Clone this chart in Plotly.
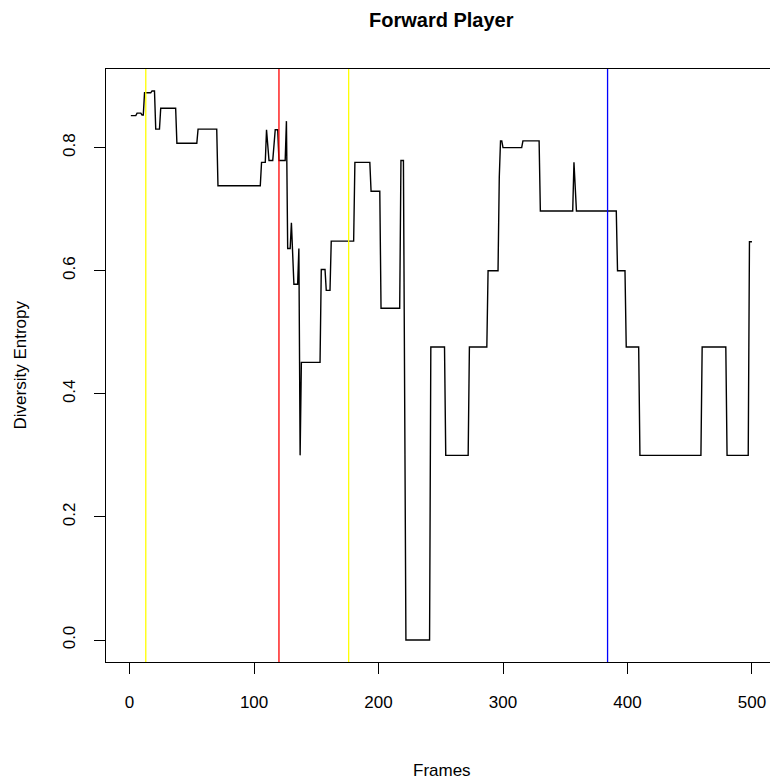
import plotly.graph_objects as go

# Diversity entropy of the forward player, held constant over runs of frames.
seg_start = [1, 6, 10, 12, 18, 21, 25, 38, 55, 71, 106, 110, 112, 117, 120, 126,
             127, 130, 132, 136, 137, 138, 154, 158, 162, 181, 194, 202, 218, 222,
             242, 254, 273, 288, 297, 298, 300, 316, 330, 357, 359, 392, 399, 410,
             460, 480, 498]
seg_end = [5, 9, 11, 17, 20, 24, 37, 54, 70, 105, 109, 110, 115, 119, 125, 126,
           129, 130, 135, 136, 137, 153, 157, 161, 180, 193, 201, 217, 220, 241,
           253, 272, 287, 296, 297, 299, 315, 329, 356, 357, 391, 398, 409, 459,
           479, 497, 500]
seg_value = [0.852, 0.856, 0.853, 0.889, 0.892, 0.830, 0.864, 0.807, 0.830, 0.738,
             0.776, 0.829, 0.779, 0.829, 0.779, 0.843, 0.636, 0.678, 0.578, 0.636,
             0.300, 0.451, 0.602, 0.568, 0.648, 0.776, 0.729, 0.539, 0.779, 0.000,
             0.476, 0.300, 0.476, 0.600, 0.752, 0.811, 0.800, 0.811, 0.697, 0.776,
             0.697, 0.600, 0.476, 0.300, 0.476, 0.300, 0.647]

# Event markers drawn as vertical reference lines
event_frames = [13, 120, 176, 384]
event_colors = ["#FFFF00", "#FF0000", "#FFFF00", "#0000FF"]

x_ticks = [0, 100, 200, 300, 400, 500]
y_ticks = [0.0, 0.2, 0.4, 0.6, 0.8]
y_tick_text = ["0.0", "0.2", "0.4", "0.6", "0.8"]

# Polyline through the start and end frame of every run
xs, ys = [], []
for s, e, v in zip(seg_start, seg_end, seg_value):
    xs.append(s)
    ys.append(v)
    if e != s:
        xs.append(e)
        ys.append(v)

FONT = "Liberation Sans, Arial, Helvetica, sans-serif"

fig = go.Figure()
fig.add_trace(go.Scatter(x=xs, y=ys, mode="lines",
                         line=dict(color="black", width=1.4),
                         hoverinfo="skip", showlegend=False))

for f, c in zip(event_frames, event_colors):
    fig.add_shape(type="line", xref="x", yref="paper", x0=f, x1=f, y0=0, y1=1,
                  line=dict(color=c, width=1.3), layer="above")

fig.update_layout(
    width=770, height=782,
    margin=dict(l=106, r=0, t=69, b=120),
    paper_bgcolor="white", plot_bgcolor="white",
    font=dict(family=FONT, size=17, color="black"),
    showlegend=False,
)

fig.update_xaxes(
    range=[-18.96, 514.5], tickmode="array", tickvals=x_ticks,
    ticks="outside", ticklen=11, tickwidth=1, tickcolor="black",
    showline=True, linecolor="black", linewidth=1, mirror=True,
    showgrid=False, zeroline=False, ticklabelstandoff=14,
    tickfont=dict(size=17, family=FONT),
)
fig.update_yaxes(
    range=[-0.0357, 0.9277], tickmode="array", tickvals=y_ticks,
    ticktext=y_tick_text, tickangle=-90,
    ticks="outside", ticklen=11, tickwidth=1, tickcolor="black",
    showline=True, linecolor="black", linewidth=1, mirror=False,
    showgrid=False, zeroline=False, ticklabelstandoff=12,
    tickfont=dict(size=17, family=FONT),
)

fig.add_annotation(text="<b>Forward Player</b>", xref="paper", yref="paper",
                   x=0.5053, y=1 + 49 / 593, xanchor="center", yanchor="middle",
                   showarrow=False, font=dict(size=20, family=FONT))
fig.add_annotation(text="Frames", xref="paper", yref="paper",
                   x=0.5053, y=-108 / 593, xanchor="center", yanchor="middle",
                   showarrow=False, font=dict(size=17, family=FONT))
fig.add_annotation(text="Diversity Entropy", xref="paper", yref="paper",
                   x=-86 / 664, y=0.5, xanchor="center", yanchor="middle",
                   textangle=-90, showarrow=False, font=dict(size=17, family=FONT))

fig.write_html("out.html")
